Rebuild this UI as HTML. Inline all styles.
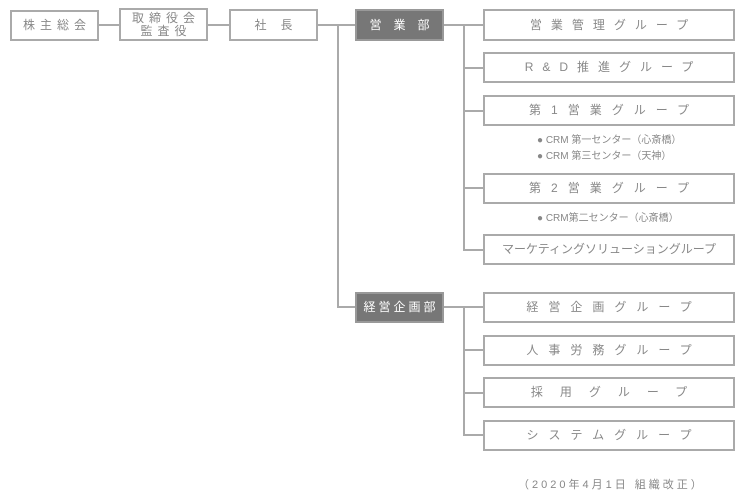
<!DOCTYPE html>
<html><head><meta charset="utf-8"><style>
body{margin:0;width:750px;height:500px;background:#fff;position:relative;overflow:hidden;font-family:"Liberation Sans","Noto Sans CJK JP",sans-serif;color:#666}
.b{position:absolute;box-sizing:border-box;border:2px solid #aaa;background:#fff;display:flex;align-items:center;justify-content:center;font-size:12px;letter-spacing:5px;color:#888;text-align:center;line-height:13px;white-space:nowrap}
.d{background:#777;color:#fff;border-color:#999}
.l{position:absolute;background:#aaa}
.t{position:absolute;font-size:10px;color:#888;white-space:nowrap}
</style></head><body>
<div class="l" style="left:99px;top:24px;width:256px;height:2px"></div>
<div class="l" style="left:337px;top:24px;width:2px;height:284px"></div>
<div class="l" style="left:337px;top:306px;width:18px;height:2px"></div>
<div class="l" style="left:444px;top:24px;width:40px;height:2px"></div>
<div class="l" style="left:463px;top:24px;width:2px;height:226px"></div>
<div class="l" style="left:463px;top:67px;width:20px;height:2px"></div>
<div class="l" style="left:463px;top:110px;width:20px;height:2px"></div>
<div class="l" style="left:463px;top:187px;width:20px;height:2px"></div>
<div class="l" style="left:463px;top:249px;width:20px;height:2px"></div>
<div class="l" style="left:444px;top:306px;width:40px;height:2px"></div>
<div class="l" style="left:463px;top:306px;width:2px;height:130px"></div>
<div class="l" style="left:463px;top:349px;width:20px;height:2px"></div>
<div class="l" style="left:463px;top:392px;width:20px;height:2px"></div>
<div class="l" style="left:463px;top:434px;width:20px;height:2px"></div>

<div class="b" style="left:10px;top:10px;width:89px;height:31px;padding-left:5px">株主総会</div>
<div class="b" style="left:119px;top:8px;width:89px;height:33px;padding-left:5px;line-height:13px">取締役会<br>監査役</div>
<div class="b" style="left:229px;top:9px;width:89px;height:32px;letter-spacing:14px;padding-left:14px">社長</div>
<div class="b d" style="left:355px;top:9px;width:89px;height:32px;letter-spacing:12px;padding-left:12px">営業部</div>
<div class="b d" style="left:355px;top:292px;width:89px;height:31px;letter-spacing:3px;padding-left:3px">経営企画部</div>

<div class="b" style="left:483px;top:9px;width:252px;height:32px;letter-spacing:9px;padding-left:9px">営業管理グループ</div>
<div class="b" style="left:483px;top:52px;width:252px;height:31px;letter-spacing:9px;padding-left:9px">R&amp;D推進グループ</div>
<div class="b" style="left:483px;top:95px;width:252px;height:31px;letter-spacing:10px;padding-left:10px">第1営業グループ</div>
<div class="b" style="left:483px;top:173px;width:252px;height:31px;letter-spacing:10px;padding-left:10px">第2営業グループ</div>
<div class="b" style="left:483px;top:234px;width:252px;height:31px;letter-spacing:0">マーケティングソリューショングループ</div>
<div class="b" style="left:483px;top:292px;width:252px;height:31px;letter-spacing:10px;padding-left:10px">経営企画グループ</div>
<div class="b" style="left:483px;top:335px;width:252px;height:31px;letter-spacing:10px;padding-left:10px">人事労務グループ</div>
<div class="b" style="left:483px;top:377px;width:252px;height:31px;letter-spacing:17px;padding-left:17px">採用グループ</div>
<div class="b" style="left:483px;top:420px;width:252px;height:31px;letter-spacing:10px;padding-left:10px">システムグループ</div>

<div class="t" style="left:537px;top:131px">● CRM 第一センター（心斎橋）</div>
<div class="t" style="left:537px;top:147px">● CRM 第三センター（天神）</div>
<div class="t" style="left:537px;top:209px">● CRM第二センター（心斎橋）</div>
<div class="t" style="left:518px;top:476px;font-size:11px;letter-spacing:3px">（2020年4月1日 組織改正）</div>
</body></html>
